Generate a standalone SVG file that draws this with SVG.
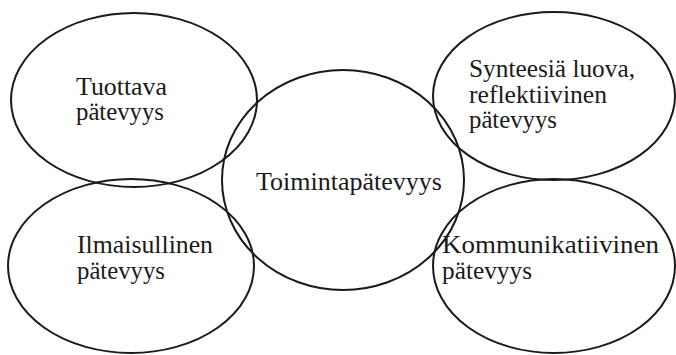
<svg xmlns="http://www.w3.org/2000/svg" width="676" height="355" viewBox="0 0 676 355">
<style>
.n ellipse{fill:none;stroke:#1a1a1a;stroke-width:2}
.t{font-family:'Liberation Serif','Times New Roman',serif;font-size:25px;fill:#1a1a1a}
</style>
<rect width="676" height="355" fill="#ffffff"/>
<g id="connectors"></g>
<g id="tuottava" class="n">
<ellipse cx="134" cy="100" rx="123" ry="87"/>
<text class="t" x="76" y="95" textLength="91" lengthAdjust="spacingAndGlyphs">Tuottava</text>
<text class="t" x="76" y="120" textLength="88" lengthAdjust="spacingAndGlyphs">pätevyys</text>
</g>
<g id="ilmaisullinen" class="n">
<ellipse cx="131" cy="266" rx="123" ry="87"/>
<text class="t" x="77" y="253" textLength="136" lengthAdjust="spacingAndGlyphs">Ilmaisullinen</text>
<text class="t" x="77" y="279" textLength="88" lengthAdjust="spacingAndGlyphs">pätevyys</text>
</g>
<g id="toimintapatevyys" class="n">
<ellipse cx="343" cy="180" rx="121" ry="110"/>
<text class="t" x="256" y="190" textLength="186" lengthAdjust="spacingAndGlyphs">Toimintapätevyys</text>
</g>
<g id="synteesia" class="n">
<ellipse cx="554" cy="96" rx="121" ry="84"/>
<text class="t" x="469" y="77" textLength="166" lengthAdjust="spacingAndGlyphs">Synteesiä luova,</text>
<text class="t" x="469" y="103" textLength="138" lengthAdjust="spacingAndGlyphs">reflektiivinen</text>
<text class="t" x="469" y="128" textLength="88" lengthAdjust="spacingAndGlyphs">pätevyys</text>
</g>
<g id="kommunikatiivinen" class="n">
<ellipse cx="554" cy="266" rx="121" ry="87"/>
<text class="t" x="442" y="253" textLength="217" lengthAdjust="spacingAndGlyphs">Kommunikatiivinen</text>
<text class="t" x="442" y="279" textLength="90" lengthAdjust="spacingAndGlyphs">pätevyys</text>
</g>
</svg>
